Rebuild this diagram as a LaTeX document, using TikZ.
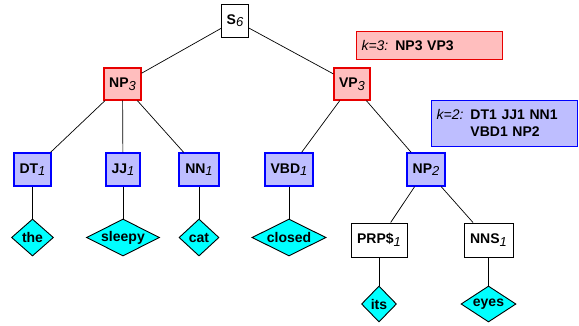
\documentclass[tikz,border=0pt]{standalone}
\usepackage{fontspec}
\setmainfont{Liberation Sans}
\usetikzlibrary{shapes.geometric}
\definecolor{redfill}{RGB}{255,190,190}
\definecolor{redline}{RGB}{232,0,0}
\definecolor{bluefill}{RGB}{190,190,255}
\definecolor{blueline}{RGB}{0,0,255}
\definecolor{wordfill}{RGB}{0,255,255}
\newcommand\subn[1]{\raisebox{-0.35ex}{\normalfont\itshape\fontsize{13}{13}\selectfont #1}}
\tikzset{
  lab/.style={font=\fontsize{14}{17.3}\selectfont\bfseries, inner sep=0pt, align=center},
  plainbox/.style={lab, draw=black, line width=0.9pt, fill=white},
  redbox/.style={lab, draw=redline, line width=1.3pt, fill=redfill},
  bluebox/.style={lab, draw=blueline, line width=1.3pt, fill=bluefill},
  word/.style={diamond, draw=black, line width=0.9pt, fill=wordfill, inner sep=0pt,
    label={[font=\fontsize{14}{14}\selectfont\bfseries, inner sep=0pt]center:#1}},
  conn/.style={draw=black, line width=0.7pt},
  legend/.style={font=\fontsize{14}{17.3}\selectfont, inner xsep=4.8pt, inner ysep=0pt, align=left},
}
\begin{document}
\begin{tikzpicture}[x=1pt,y=-1pt]
\useasboundingbox (0,0) rectangle (579,325);
% tree nodes
\node[plainbox, minimum width=27pt, minimum height=33pt] (S) at (235,20.5) {S\subn{6}};
\node[redbox, minimum width=37pt, minimum height=32pt] (NP3) at (122.5,84) {NP\subn{3}};
\node[redbox, minimum width=36pt, minimum height=32pt] (VP3) at (352,84) {VP\subn{3}};
\node[bluebox, minimum width=37pt, minimum height=33pt] (DT) at (32.5,169.5) {DT\subn{1}};
\node[bluebox, minimum width=34pt, minimum height=33pt] (JJ) at (123,169.5) {JJ\subn{1}};
\node[bluebox, minimum width=40pt, minimum height=33pt] (NN) at (199,169.5) {NN\subn{1}};
\node[bluebox, minimum width=48pt, minimum height=33pt] (VBD) at (289,169.5) {VBD\subn{1}};
\node[bluebox, minimum width=38pt, minimum height=33pt] (NP2) at (426,169.5) {NP\subn{2}};
\node[plainbox, minimum width=56pt, minimum height=34pt] (PRP) at (379,240) {PRP\$\subn{1}};
\node[plainbox, minimum width=49pt, minimum height=34pt] (NNS) at (488.5,240) {NNS\subn{1}};
% words
\node[word=the, minimum width=42pt, minimum height=37pt] (the) at (32.5,237.5) {};
\node[word=sleepy, minimum width=73pt, minimum height=37pt] (sleepy) at (123,237.5) {};
\node[word=cat, minimum width=40pt, minimum height=37pt] (cat) at (199,237.5) {};
\node[word=closed, minimum width=74pt, minimum height=37pt] (closed) at (289,237.5) {};
\node[word=its, minimum width=35pt, minimum height=36pt] (its) at (379,304) {};
\node[word=eyes, minimum width=55pt, minimum height=36pt] (eyes) at (488.5,304) {};
% legends
\node[legend, draw=redline, line width=1.3pt, fill=redfill, minimum width=146pt, minimum height=28pt, text width=136.4pt] (k3) at (429.7,45.5) {\textit{k=3:} \textbf{NP3 VP3}};
\node[legend, draw=blueline, line width=1.3pt, fill=bluefill, minimum width=146pt, minimum height=46pt, text width=136.4pt] (k2) at (504.8,123.2) {\textit{k=2:} \textbf{DT1 JJ1 NN1}\\\phantom{\textit{k=2:} }\textbf{VBD1 NP2}};
% connectors
\draw[conn] (S) -- (NP3);
\draw[conn] (S) -- (VP3);
\draw[conn] (NP3) -- (DT);
\draw[conn] (NP3) -- (JJ);
\draw[conn] (NP3) -- (NN);
\draw[conn] (VP3) -- (VBD);
\draw[conn] (VP3) -- (NP2);
\draw[conn] (NP2) -- (PRP);
\draw[conn] (NP2) -- (NNS);
\draw[conn] (DT) -- (the);
\draw[conn] (JJ) -- (sleepy);
\draw[conn] (NN) -- (cat);
\draw[conn] (VBD) -- (closed);
\draw[conn] (PRP) -- (its);
\draw[conn] (NNS) -- (eyes);
\end{tikzpicture}
\end{document}
